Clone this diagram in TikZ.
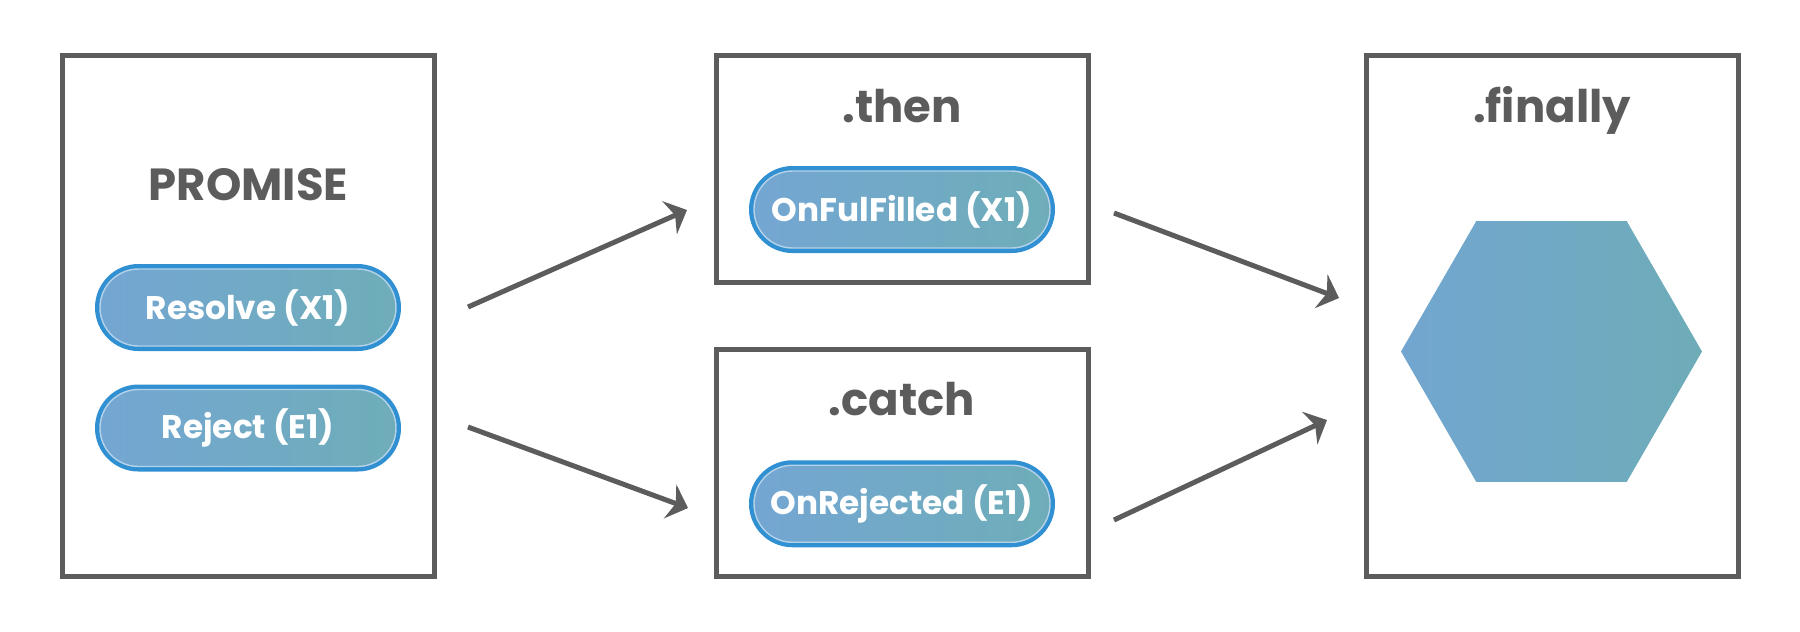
\documentclass[tikz,border=0pt]{standalone}
\usepackage{fontspec}
\setmainfont{Poppins}
\usetikzlibrary{arrows.meta, shapes.geometric, shapes.misc}

\definecolor{linegray}{HTML}{5C5C5C}
\definecolor{pillring}{HTML}{3090D2}
\definecolor{pillleft}{HTML}{74A6D3}
\definecolor{pillright}{HTML}{6EADB8}
\definecolor{pillrim}{HTML}{B4D2E8}
\definecolor{hexleft}{HTML}{72A6D0}
\definecolor{hexright}{HTML}{6EACB8}

\begin{document}
\begin{tikzpicture}
    \tikzstyle{every node} = [inner sep=0pt]
    \tikzstyle{stage} = [draw=linegray, line width=0.05cm, minimum width=3.72cm]
    \tikzstyle{title} = [anchor=base, text=linegray, font=\fontsize{12.8}{15}\selectfont\bfseries]
    \tikzstyle{pill} = [rounded rectangle, minimum width=2.96cm, minimum height=0.77cm,
      preaction={draw=pillring, line width=0.1cm}, left color=pillleft, right color=pillright,
      draw=pillrim, line width=0.4pt, text=white,
      font=\fontsize{9.3}{11}\selectfont\bfseries]
    \tikzstyle{hexa} = [regular polygon, regular polygon sides=6, minimum size=3.01cm,
      left color=hexleft, right color=hexright]
    \tikzstyle{flow} = [draw=linegray, line width=0.05cm,
      -{Stealth[length=0.19cm, width=0.36cm, inset=0.06cm]}]

    \useasboundingbox (0, 0) rectangle (18, -6.31);

    % promise
    \node [stage, minimum height=5.21cm] (promise) at (2.485, -3.16) {};
    \node [title] (promisetitle) at (2.485, -2.00) {PROMISE};
    \node [pill] (resolve) at (2.48, -3.075) {Resolve (X1)};
    \node [pill] (reject) at (2.48, -4.28) {Reject (E1)};

    % then / catch
    \node [stage, minimum height=2.27cm] (then) at (9.0225, -1.69) {};
    \node [title] (thentitle) at (9.02, -1.22) {.then};
    \node [pill] (onfulfilled) at (9.02, -2.095) {OnFulFilled (X1)};

    \node [stage, minimum height=2.27cm] (catch) at (9.0225, -4.63) {};
    \node [title] (catchtitle) at (9.02, -4.15) {.catch};
    \node [pill] (onrejected) at (9.02, -5.0375) {OnRejected (E1)};

    % finally
    \node [stage, minimum height=5.21cm] (finally) at (15.52, -3.16) {};
    \node [title] (finallytitle) at (15.52, -1.22) {.finally};
    \node [hexa] (hex) at (15.515, -3.515) {};

    % arrows
    \coordinate (resolveout) at (4.68, -3.07);
    \coordinate (rejectout) at (4.68, -4.27);
    \coordinate (thenin) at (6.87, -2.10);
    \coordinate (catchin) at (6.88, -5.08);
    \coordinate (thenout) at (11.14, -2.13);
    \coordinate (catchout) at (11.14, -5.20);
    \coordinate (finallyin) at (13.39, -2.98);
    \coordinate (finallyinb) at (13.27, -4.20);

    \draw [flow] (resolveout) -- (thenin);
    \draw [flow] (rejectout) -- (catchin);
    \draw [flow] (thenout) -- (finallyin);
    \draw [flow] (catchout) -- (finallyinb);
\end{tikzpicture}
\end{document}
